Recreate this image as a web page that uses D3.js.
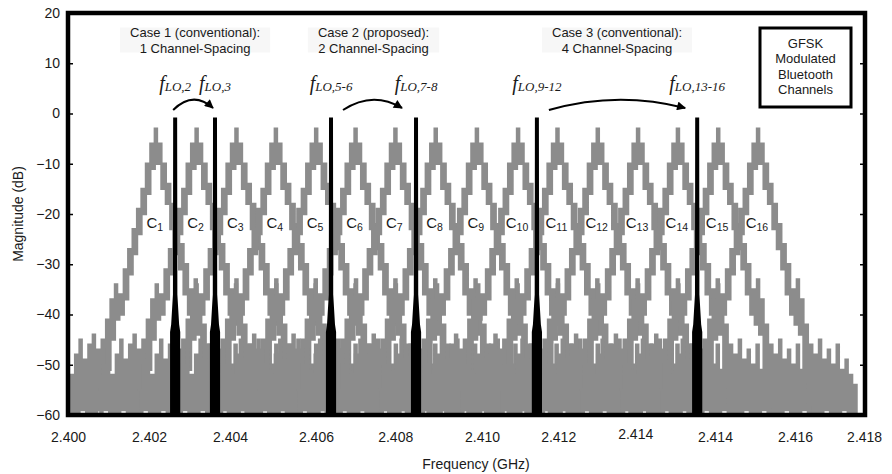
<!DOCTYPE html>
<html>
<head>
<meta charset="utf-8">
<script src="https://cdn.jsdelivr.net/npm/d3@7"></script>
<style>
  body { margin: 0; background: #fff; }
  text { font-family: Arial, "Liberation Sans", sans-serif; fill: #1a1a1a; }
  .lo-label { font-family: "Liberation Serif", "Times New Roman", serif; font-style: italic; }
</style>
</head>
<body>
<div id="chart"></div>
<script>
// axis ticks as printed on the figure
const yTicks = [20, 10, 0, -10, -20, -30, -40, -50, -60];
const xTickPos = [2.4000, 2.40183, 2.40366, 2.40560, 2.40739, 2.40935, 2.41107, 2.41281, 2.41461, 2.41642, 2.41798];
const xTickLabels = ["2.400", "2.402", "2.404", "2.406", "2.408", "2.410", "2.412", "2.414", "2.414", "2.416", "2.418"];

// Bluetooth channel centres (GHz)
const chanNum = [1, 2, 3, 4, 5, 6, 7, 8, 9, 10, 11, 12, 13, 14, 15, 16];
const chanFreq = [2.40196, 2.40288, 2.40378, 2.40467, 2.40558, 2.40647, 2.40737, 2.40828,
  2.40921, 2.41014, 2.41103, 2.41194, 2.41285, 2.41375, 2.41466, 2.41556];

// measured GFSK spectrum of one channel: [offset MHz, dB]
const chanProfile = [
  [-2.20, -55], [-2.15, -60], [-2.10, -50], [-2.05, -59], [-2.00, -47], [-1.95, -61],
  [-1.90, -52], [-1.85, -60], [-1.80, -48], [-1.75, -61], [-1.70, -45], [-1.65, -59],
  [-1.60, -49], [-1.55, -61], [-1.50, -46], [-1.45, -60], [-1.40, -44], [-1.35, -61],
  [-1.30, -47], [-1.25, -59], [-1.20, -45], [-1.15, -57], [-1.10, -41], [-1.05, -51],
  [-1.00, -37], [-0.95, -45], [-0.90, -34], [-0.85, -41], [-0.80, -36], [-0.75, -40],
  [-0.70, -31], [-0.65, -37], [-0.60, -27], [-0.55, -32], [-0.50, -23], [-0.45, -28],
  [-0.40, -19], [-0.35, -24], [-0.30, -15], [-0.25, -20], [-0.20, -10], [-0.15, -16],
  [-0.10, -6], [-0.05, -11], [0.00, -3], [0.05, -10], [0.10, -6], [0.15, -15],
  [0.20, -10], [0.25, -18], [0.30, -14], [0.35, -23], [0.40, -18], [0.45, -27],
  [0.50, -22], [0.55, -31], [0.60, -26], [0.65, -36], [0.70, -30], [0.75, -40],
  [0.80, -35], [0.85, -42], [0.90, -33], [0.95, -44], [1.00, -37], [1.05, -52],
  [1.10, -42], [1.15, -58], [1.20, -46], [1.25, -61], [1.30, -48], [1.35, -60],
  [1.40, -45], [1.45, -61], [1.50, -49], [1.55, -59], [1.60, -47], [1.65, -61],
  [1.70, -50], [1.75, -60], [1.80, -46], [1.85, -61], [1.90, -51], [1.95, -59],
  [2.00, -49], [2.05, -61], [2.10, -52], [2.15, -60], [2.20, -54], [2.25, -61]
];

// LO tones
const loNames = ["2", "3", "5-6", "7-8", "9-12", "13-16"];
const loFreq = [2.40242, 2.40332, 2.40594, 2.40786, 2.41059, 2.41421];
// LO tone shape: [dB, half width MHz]
const loShape = [[-0.8, 0.045], [-36, 0.05], [-42, 0.09], [-43.5, 0.115], [-60, 0.115]];

const caseLines = [
  ["Case 1 (conventional):", "1 Channel-Spacing"],
  ["Case 2 (proposed):", "2 Channel-Spacing"],
  ["Case 3 (conventional):", "4 Channel-Spacing"]
];
const legendLines = ["GFSK", "Modulated", "Bluetooth", "Channels"];

let width = 892, height = 474,
  margin = ({ top: 13, right: 27, bottom: 59, left: 68 });

const svg = d3.select("#chart")
  .append("svg")
  .attr("width", width)
  .attr("height", height);

let x = d3.scaleLinear()
  .domain([2.400, 2.418])
  .range([margin.left, width - margin.right]);

let y = d3.scaleLinear()
  .domain([-60, 20])
  .range([height - margin.bottom, margin.top]);

svg.append("clipPath").attr("id", "plot-clip")
  .append("rect")
  .attr("x", margin.left).attr("y", margin.top)
  .attr("width", x.range()[1] - margin.left)
  .attr("height", y.range()[0] - margin.top);

// channel traces
let trace = d3.line()
  .x(d => x(d[0]))
  .y(d => y(d[1]))
  .curve(d3.curveStepAfter);

let plot = svg.append("g").attr("clip-path", "url(#plot-clip)");

chanFreq.forEach(c => {
  plot.append("path")
    .datum(chanProfile.map(p => [c + p[0] / 1000, p[1]]))
    .attr("fill", "none")
    .attr("stroke", "#8c8c8c")
    .attr("stroke-width", 2.3)
    .attr("d", trace);
});

// LO tones (black spikes)
loFreq.forEach(f => {
  let pts = loShape.map(s => [x(f - s[1] / 1000), y(s[0])])
    .concat(loShape.slice().reverse().map(s => [x(f + s[1] / 1000), y(s[0])]));
  plot.append("path")
    .attr("d", "M" + pts.join("L") + "Z")
    .attr("fill", "#000");
});

// channel labels
chanNum.forEach((n, i) => {
  let t = svg.append("text")
    .attr("x", x(chanFreq[i]))
    .attr("y", y(-22.8))
    .attr("text-anchor", "middle")
    .attr("fill", "#111");
  t.append("tspan").attr("font-size", 15).text("C");
  t.append("tspan").attr("font-size", 10.5).attr("dy", 3).text(n);
});

// axes
svg.append("g")
  .attr("transform", `translate(${margin.left},0)`)
  .call(d3.axisLeft(y).tickValues(yTicks).tickSize(-5).tickPadding(8))
  .call(g => g.select(".domain").remove())
  .call(g => g.selectAll("line").attr("stroke", "#000").attr("stroke-width", 1.5))
  .call(g => g.selectAll("text").attr("font-size", 14).attr("fill", "#1a1a1a")
    .attr("font-family", "Arial, 'Liberation Sans', sans-serif"));

svg.append("g")
  .attr("transform", `translate(${x.range()[1]},0)`)
  .call(d3.axisRight(y).tickValues(yTicks).tickSize(-5).tickFormat(""))
  .call(g => g.select(".domain").remove())
  .call(g => g.selectAll("line").attr("stroke", "#000").attr("stroke-width", 1.5));

svg.append("g")
  .attr("transform", `translate(0,${y.range()[0]})`)
  .call(d3.axisBottom(x).tickValues(xTickPos)
    .tickFormat((d, i) => xTickLabels[i])
    .tickSize(0).tickPadding(17))
  .call(g => g.select(".domain").remove())
  .call(g => g.selectAll("text").attr("font-size", 14).attr("fill", "#1a1a1a")
    .attr("font-family", "Arial, 'Liberation Sans', sans-serif"))
  .call(g => g.selectAll(".tick text").filter((d, i) => i === 7).attr("y", 14.5));

// frame
svg.append("rect")
  .attr("x", margin.left).attr("y", margin.top)
  .attr("width", x.range()[1] - margin.left)
  .attr("height", y.range()[0] - margin.top)
  .attr("fill", "none")
  .attr("stroke", "#000")
  .attr("stroke-width", 4.5);

svg.append("text")
  .attr("x", 476)
  .attr("y", 469)
  .attr("text-anchor", "middle")
  .attr("font-size", 14)
  .text("Frequency (GHz)");

svg.append("text")
  .attr("transform", "rotate(-90)")
  .attr("x", -214)
  .attr("y", 23)
  .attr("text-anchor", "middle")
  .attr("font-size", 14)
  .text("Magnitude (dB)");

// case annotations, centred between their LO pair
caseLines.forEach((lines, i) => {
  let cx = (x(loFreq[2 * i]) + x(loFreq[2 * i + 1])) / 2;
  let g = svg.append("g");
  let bg = g.append("rect").attr("fill", "#f7f7f7");
  lines.forEach((s, j) => {
    g.append("text")
      .attr("x", cx)
      .attr("y", 36.5 + j * 16)
      .attr("text-anchor", "middle")
      .attr("font-size", 13)
      .text(s);
  });
  let b = g.node().getBBox();
  bg.attr("x", b.x - 10).attr("y", b.y + 3).attr("width", b.width + 20).attr("height", b.height - 6);
});

// LO labels
loFreq.forEach((f, i) => {
  let t = svg.append("text")
    .attr("class", "lo-label")
    .attr("x", x(f))
    .attr("y", 90)
    .attr("text-anchor", "middle")
    .attr("fill", "#111");
  t.append("tspan").attr("font-size", 20).text("f");
  t.append("tspan").attr("font-size", 13).attr("dy", 1).text("LO," + loNames[i]);
});

// arrows between LO positions
svg.append("defs").append("marker")
  .attr("id", "arrow")
  .attr("viewBox", "0 0 10 10")
  .attr("refX", 9).attr("refY", 5)
  .attr("markerUnits", "userSpaceOnUse")
  .attr("markerWidth", 10).attr("markerHeight", 9)
  .attr("orient", "auto")
  .append("path").attr("d", "M0,0L10,5L0,10Z").attr("fill", "#000");

const arrows = [[0, 1, -2, -2], [2, 3, 12, -14], [4, 5, 12, -12]];
arrows.forEach(([a, b, da, db]) => {
  let sx = x(loFreq[a]) + da, ex = x(loFreq[b]) + db;
  let p = d3.path();
  p.moveTo(sx, y(0.7));
  p.quadraticCurveTo((sx + ex) / 2, y(4.6), ex, y(1.1));
  svg.append("path")
    .attr("d", p.toString())
    .attr("fill", "none")
    .attr("stroke", "#000")
    .attr("stroke-width", 2)
    .attr("marker-end", "url(#arrow)");
});

// legend box
let lg = svg.append("g");
lg.append("rect")
  .attr("x", 760).attr("y", 28)
  .attr("width", 91).attr("height", 79)
  .attr("fill", "#fff")
  .attr("stroke", "#000")
  .attr("stroke-width", 3);
legendLines.forEach((s, i) => {
  lg.append("text")
    .attr("x", 805.5)
    .attr("y", 47.5 + i * 15.5)
    .attr("text-anchor", "middle")
    .attr("font-size", 13)
    .text(s);
});
</script>
</body>
</html>
